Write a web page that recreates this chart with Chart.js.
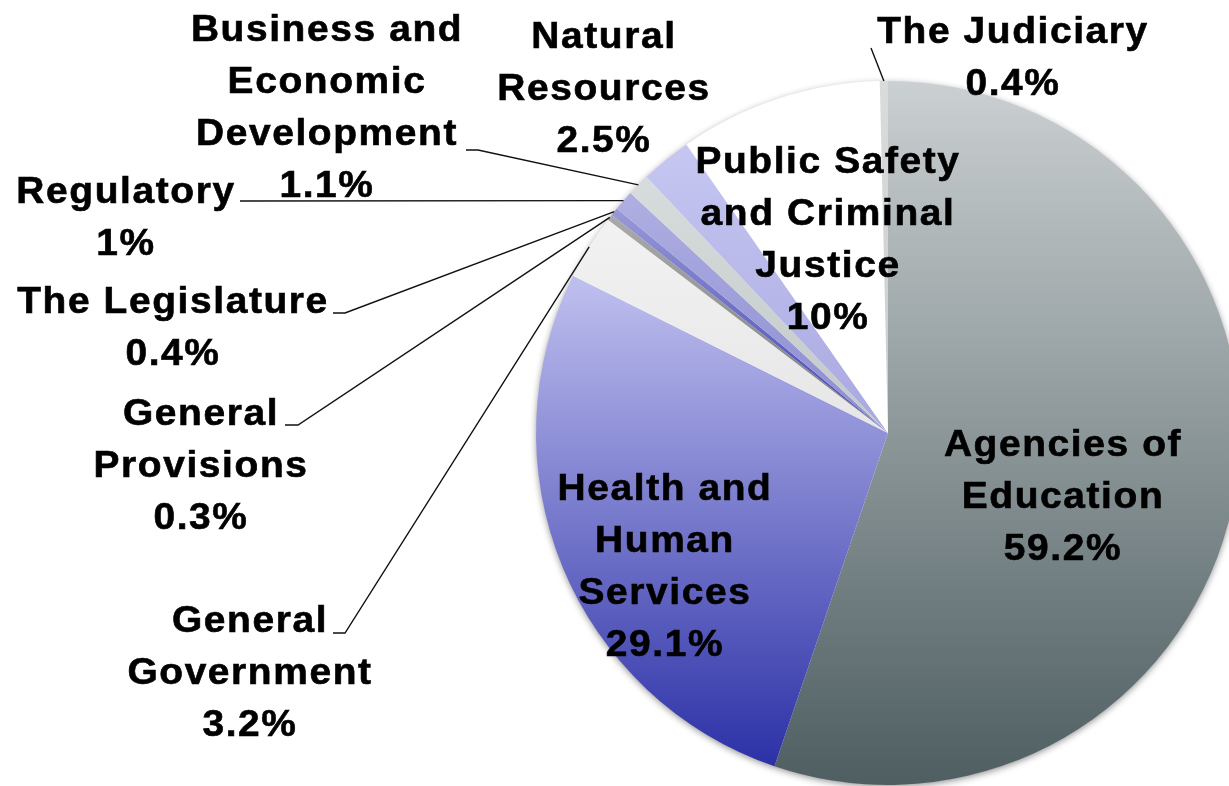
<!DOCTYPE html>
<html>
<head>
<meta charset="utf-8">
<script src="https://cdn.jsdelivr.net/npm/chart.js@4/dist/chart.umd.min.js"></script>
<style>
  html, body { margin: 0; padding: 0; background: #fff; overflow: hidden; }
  canvas { display: block; }
</style>
</head>
<body>
<canvas id="budget-pie" width="1229" height="786"></canvas>
<script>
// data (labels on the picture add up to 107.2, the pie normalises)
const categories = [
  'Agencies of Education', 'Health and Human Services', 'General Government',
  'General Provisions', 'The Legislature', 'Regulatory',
  'Business and Economic Development', 'Natural Resources',
  'Public Safety and Criminal Justice', 'The Judiciary'
];
const shares = [59.2, 29.1, 3.2, 0.3, 0.4, 1, 1.1, 2.5, 10, 0.4];

// how the label of each slice is broken into lines
const labelLines = [
  ['Agencies of', 'Education'],
  ['Health and', 'Human', 'Services'],
  ['General', 'Government'],
  ['General', 'Provisions'],
  ['The Legislature'],
  ['Regulatory'],
  ['Business and', 'Economic', 'Development'],
  ['Natural', 'Resources'],
  ['Public Safety', 'and Criminal', 'Justice'],
  ['The Judiciary']
];

// layout: label centre x, first baseline, leader line start (null = inside the slice)
const labelSpots = [
  { x: 1062, y: 456, lead: null },
  { x: 664, y: 500, lead: null },
  { x: 249, y: 632, lead: [[333, 633], [345, 633]] },
  { x: 200, y: 425, lead: [[285, 425], [298, 425]] },
  { x: 172, y: 313, lead: [[333, 313], [345, 313]] },
  { x: 125, y: 203, lead: [[240, 201]] },
  { x: 326, y: 41, lead: [[466, 150], [478, 150]] },
  { x: 603, y: 48, lead: null },
  { x: 827, y: 173, lead: null },
  { x: 1012, y: 43, lead: [[871, 48]] }
];
const lineGap = 52;

// colour pairs (top, bottom) of each slice's vertical shading, with where they sit in the pie
const shades = [
  ['#cbd0d2', '#4e5e61', 0, 1],
  ['#bdbdee', '#2b30a6', 0.29, 0.976],
  ['#f2f2f2', '#e6e6e6', 0.2, 0.5],
  ['#a8a8a8', '#7c7c7c', 0.2, 0.5],
  ['#9a9ad8', '#3a3eb0', 0.18, 0.5],
  ['#aeaee2', '#8a8ad0', 0.17, 0.5],
  ['#d6dbdb', '#c2c8c8', 0.15, 0.5],
  ['#c6c6f2', '#a8a8e0', 0.1, 0.5],
  ['#ffffff', '#ffffff', 0, 1],
  ['#dadcdc', '#c8cccc', 0, 0.5]
];
const R = 352;

function sliceShade(c) {
  const s = shades[c.dataIndex] || shades[0];
  const area = c.chart.chartArea;
  if (!area) return s[1];
  const cy = (area.top + area.bottom) / 2;
  const g = c.chart.ctx.createLinearGradient(0, cy - R, 0, cy + R);
  g.addColorStop(s[2], s[0]);
  g.addColorStop(s[3], s[1]);
  return g;
}

const pieShadow = {
  id: 'pieShadow',
  beforeDatasetsDraw(chart) {
    const arc = chart.getDatasetMeta(0).data[0];
    if (!arc) return;
    const ctx = chart.ctx;
    ctx.save();
    ctx.shadowColor = 'rgba(0,0,0,0.45)';
    ctx.shadowBlur = 7;
    ctx.shadowOffsetY = 2;
    ctx.beginPath();
    ctx.arc(arc.x, arc.y, arc.outerRadius - 0.5, 0, Math.PI * 2);
    ctx.fillStyle = '#ffffff';
    ctx.fill();
    ctx.restore();
  }
};

const sliceLabels = {
  id: 'sliceLabels',
  afterDatasetsDraw(chart) {
    const ctx = chart.ctx;
    const arcs = chart.getDatasetMeta(0).data;
    ctx.save();
    // leader lines run to the middle of each slice's outer edge
    ctx.strokeStyle = '#111';
    ctx.lineWidth = 1.4;
    arcs.forEach((arc, i) => {
      const spot = labelSpots[i];
      if (!spot.lead) return;
      const mid = (arc.startAngle + arc.endAngle) / 2;
      const ex = arc.x + Math.cos(mid) * arc.outerRadius;
      const ey = arc.y + Math.sin(mid) * arc.outerRadius;
      ctx.beginPath();
      ctx.moveTo(spot.lead[0][0], spot.lead[0][1]);
      for (let k = 1; k < spot.lead.length; k++) ctx.lineTo(spot.lead[k][0], spot.lead[k][1]);
      ctx.lineTo(ex, ey);
      ctx.stroke();
    });

    // the labels are a touch wider than Liberation Sans, so stretch them a little
    const stretch = 1.08;
    ctx.font = 'bold 36px "Liberation Sans", Arial, sans-serif';
    if ('letterSpacing' in ctx) ctx.letterSpacing = '1.5px';
    ctx.fillStyle = '#000';
    ctx.strokeStyle = '#000';
    ctx.lineWidth = 0.6;
    ctx.textAlign = 'center';
    ctx.textBaseline = 'alphabetic';
    categories.forEach((name, i) => {
      const spot = labelSpots[i];
      const lines = labelLines[i].concat([shares[i] + '%']);
      lines.forEach((t, k) => {
        ctx.save();
        ctx.translate(spot.x + 1, spot.y + k * lineGap);
        ctx.scale(stretch, 1);
        ctx.fillText(t, 0, 0);
        ctx.strokeText(t, 0, 0);
        ctx.restore();
      });
    });
    ctx.restore();
  }
};

new Chart(document.getElementById('budget-pie').getContext('2d'), {
  type: 'pie',
  data: {
    labels: categories,
    datasets: [{
      data: shares,
      backgroundColor: sliceShade,
      borderWidth: 0,
      offset: 0,
      hoverOffset: 0,
      clip: false
    }]
  },
  options: {
    responsive: false,
    animation: false,
    radius: R,
    rotation: 0,
    layout: { padding: { left: 547, right: 0, top: 80, bottom: 0 } },
    plugins: {
      legend: { display: false },
      tooltip: { enabled: false }
    }
  },
  plugins: [pieShadow, sliceLabels]
});
</script>
</body>
</html>
